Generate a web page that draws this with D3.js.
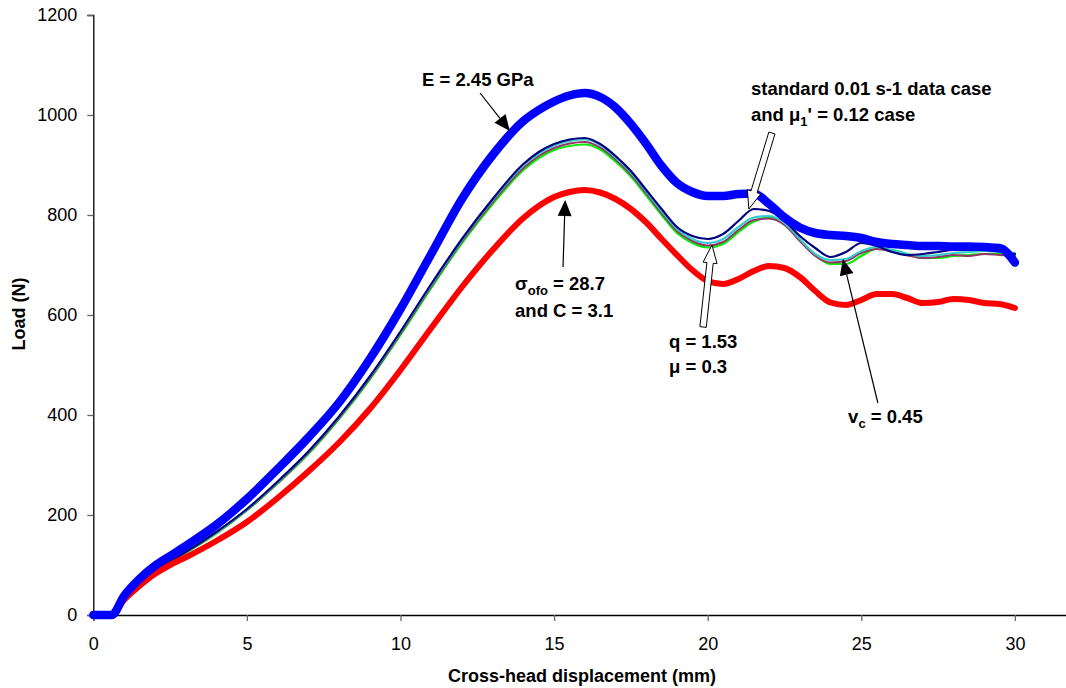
<!DOCTYPE html>
<html><head><meta charset="utf-8">
<script src="https://cdn.jsdelivr.net/npm/d3@7"></script>
<style>
html,body{margin:0;padding:0;background:#fff;}
text{font-family:"Liberation Sans",Arial,sans-serif;}
</style></head>
<body>
<svg id="chart" width="1066" height="688"></svg>
<script>
// ---- data (x = cross-head displacement mm, y = load N) ----
const xPts = [0,0.6,1,1.5,2,2.5,3,4,5,6,7,8,9,10,11,12,13,14,14.5,15,15.5,16,16.5,17,17.5,18,18.5,19,19.5,20,20.5,21,21.5,22,22.5,23,23.5,24,24.5,25,25.5,26,26.5,27,27.5,28,28.5,29,29.5,30];

const blueE = [0,0,38,72,98,118,138,180,232,292,355,425,512,612,722,832,920,988,1010,1027,1039,1044,1036,1015,982,942,898,864,846,838,838,842,843,822,795,775,764,760,758,754,746,742,740,738,738,737,737,736,734,705];
const redSigma = [0,0,30,58,82,100,115,148,186,234,287,345,412,490,574,656,730,794,818,836,846,850,845,832,812,785,752,720,690,668,662,672,688,698,694,676,648,625,620,630,642,642,634,624,626,632,630,624,622,614];
const navyStd = [0,0,34,62,88,108,126,166,212,267,327,397,477,567,662,752,832,902,926,942,951,954,942,918,888,850,812,776,758,752,762,788,812,808,788,758,734,716,726,744,738,726,720,722,726,730,730,730,727,722];
const cyanQ = [0,0,34,62,88,108,126,165,211,266,326,396,476,566,660,750,830,899,923,939,948,951,940,915,885,847,808,772,752,744,752,776,795,798,784,752,722,710,712,728,736,730,722,718,720,724,726,728,726,724];
const purpleMu = [0,0,34,61,87,107,125,164,210,264,324,394,473,563,657,747,826,894,918,934,943,946,935,911,881,843,804,768,748,739,746,770,790,793,780,748,718,705,708,724,732,727,719,714,716,720,718,722,720,718];
const greenVc = [0,0,33,60,86,106,124,163,209,263,322,392,471,560,654,744,822,890,914,930,938,941,931,907,877,839,800,764,744,735,742,766,787,795,782,750,720,702,702,718,732,730,722,714,714,718,720,722,722,720];

const xTicks = [0,5,10,15,20,25,30];
const yTicks = [0,200,400,600,800,1000,1200];

const svg = d3.select("#chart");
const x = d3.scaleLinear().domain([0,32]).range([93.3, 93.3 + 32*30.72]);
const y = d3.scaleLinear().domain([0,1200]).range([615,15]);

// axes
const xAxis = svg.append("g").attr("transform","translate(0,615)")
  .call(d3.axisBottom(x).tickValues(xTicks).tickSizeOuter(0).tickSize(6).tickPadding(16).tickFormat(d3.format("d")));
const yAxis = svg.append("g").attr("transform","translate(93.3,0)")
  .call(d3.axisLeft(y).tickValues(yTicks).tickSizeOuter(0).tickSize(6).tickPadding(10).tickFormat(d3.format("d")));
[xAxis,yAxis].forEach(a=>{
  a.select(".domain").attr("stroke","#000").attr("stroke-width",1.3);
  a.selectAll(".tick line").attr("stroke","#666").attr("stroke-width",1.3);
  a.selectAll(".tick text").attr("font-size",18).attr("fill","#000").attr("font-family","'Liberation Sans',Arial,sans-serif");
});

svg.append("text").attr("x",582).attr("y",682).attr("text-anchor","middle")
  .attr("font-size",18).attr("font-weight","bold").text("Cross-head displacement (mm)");
svg.append("text").attr("transform","translate(25,314) rotate(-90)").attr("text-anchor","middle")
  .attr("font-size",18).attr("font-weight","bold").text("Load (N)");

// lines
const line = d3.line().x((d,i)=>x(xPts[i])).y(d=>y(d)).curve(d3.curveMonotoneX);
const series = [
  {v:greenVc, c:"#00ee00", w:2.2},
  {v:purpleMu, c:"#993366", w:2},
  {v:cyanQ, c:"#33cccc", w:2.2},
  {v:navyStd, c:"#000080", w:2.2},
  {v:redSigma, c:"#ff0000", w:6},
  {v:blueE, c:"#0000ff", w:8.5}
];
series.forEach(s=>{
  svg.append("path").attr("d",line(s.v)).attr("fill","none")
    .attr("stroke",s.c).attr("stroke-width",s.w).attr("stroke-linejoin","round").attr("stroke-linecap","round");
});

// annotations (data coords)
function solidArrow(x0,y0,x1,y1){
  const p0=[x(x0),y(y0)], p1=[x(x1),y(y1)];
  const ang=Math.atan2(p1[1]-p0[1],p1[0]-p0[0]);
  const L=16, W=7;
  const bx=p1[0]-L*Math.cos(ang), by=p1[1]-L*Math.sin(ang);
  svg.append("line").attr("x1",p0[0]).attr("y1",p0[1]).attr("x2",bx).attr("y2",by)
    .attr("stroke","#000").attr("stroke-width",1.2);
  const nx=-Math.sin(ang), ny=Math.cos(ang);
  svg.append("path").attr("d",`M${p1[0]},${p1[1]}L${bx+nx*W},${by+ny*W}L${bx-nx*W},${by-ny*W}Z`).attr("fill","#000");
}
function hollowArrow(x0,y0,x1,y1){
  const p0=[x(x0),y(y0)], p1=[x(x1),y(y1)];
  const ang=Math.atan2(p1[1]-p0[1],p1[0]-p0[0]);
  const HL=18, HW=7, SW=3.2;
  const nx=-Math.sin(ang), ny=Math.cos(ang);
  const bx=p1[0]-HL*Math.cos(ang), by=p1[1]-HL*Math.sin(ang);
  const pts=[
    [p0[0]+nx*SW,p0[1]+ny*SW],[bx+nx*SW,by+ny*SW],[bx+nx*HW,by+ny*HW],p1,
    [bx-nx*HW,by-ny*HW],[bx-nx*SW,by-ny*SW],[p0[0]-nx*SW,p0[1]-ny*SW]];
  svg.append("path").attr("d","M"+pts.map(p=>p.join(",")).join("L")+"Z")
    .attr("fill","#fff").attr("stroke","#000").attr("stroke-width",1);
}
// parts: string = normal text; {sub:"..."} = subscript (baseline restored after)
function label(xv,yv,parts){
  const t=svg.append("text").attr("x",x(xv)).attr("y",y(yv)).attr("font-size",18.5).attr("font-weight","bold");
  let down=false;
  parts.forEach(p=>{
    if(typeof p==="string"){
      const s=t.append("tspan").text(p);
      if(down){ s.attr("dy",-5); down=false; }
    } else {
      t.append("tspan").attr("font-size",13).attr("dy",5).text(p.sub);
      down=true;
    }
  });
}

solidArrow(12.59,1044,13.56,968);
label(10.7,1058,["E = 2.45 GPa"]);

hollowArrow(22.09,964,21.34,812);
label(21.41,1040,["standard 0.01 s-1 data case"]);
label(21.41,988,["and μ",{sub:"1"},"' = 0.12 case"]);

solidArrow(15.29,696,15.36,830);
label(13.73,650,["σ",{sub:"ofo"}," = 28.7"]);
label(13.73,596,["and C = 3.1"]);

hollowArrow(19.85,576,20.14,740);
label(18.74,534,["q = 1.53"]);
label(18.74,484,["μ = 0.3"]);

solidArrow(25.54,424,24.4,712);
label(24.57,384,["v",{sub:"c"}," = 0.45"]);
</script>
</body></html>
